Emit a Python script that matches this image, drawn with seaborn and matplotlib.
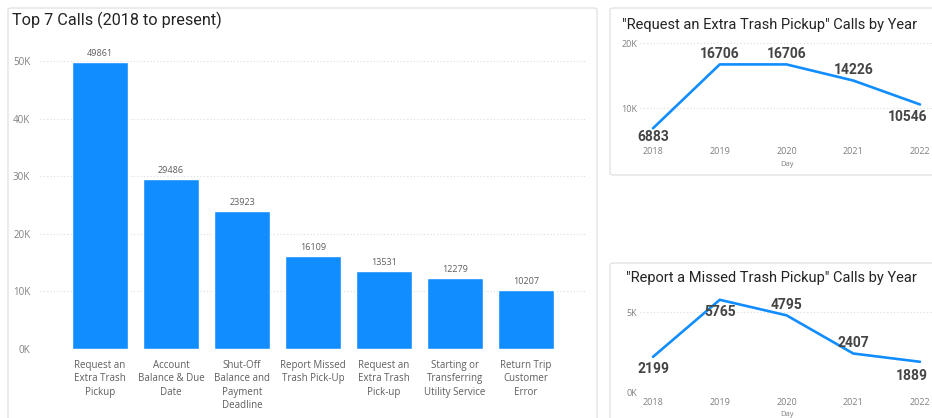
import matplotlib
matplotlib.use("Agg")
import matplotlib.pyplot as plt
from matplotlib.patches import FancyBboxPatch
from matplotlib.ticker import FuncFormatter
import pandas as pd
import seaborn as sns

# ---- data -------------------------------------------------------------
call_types = [
    "Request an\nExtra Trash\nPickup",
    "Account\nBalance & Due\nDate",
    "Shut-Off\nBalance and\nPayment\nDeadline",
    "Report Missed\nTrash Pick-Up",
    "Request an\nExtra Trash\nPick-up",
    "Starting or\nTransferring\nUtility Service",
    "Return Trip\nCustomer\nError",
]
call_counts = [49861, 29486, 23923, 16109, 13531, 12279, 10207]

years = [2018, 2019, 2020, 2021, 2022]
extra_pickup_calls = [6883, 16706, 16706, 14226, 10546]
missed_pickup_calls = [2199, 5765, 4795, 2407, 1889]

bar_ticks = [0, 10000, 20000, 30000, 40000, 50000]
extra_ticks = [10000, 20000]
missed_ticks = [0, 5000]

# ---- style ------------------------------------------------------------
sns.set_theme(style="white")
plt.rcParams["font.family"] = ["Roboto", "DejaVu Sans"]

BLUE = "#118DFF"
TITLE_C = "#252423"
TICK_C = "#808080"
LABEL_C = "#444444"
GRID_C = "#dcdcdc"
FRAME_C = "#e3e3e3"

W, H = 932, 418
fig = plt.figure(figsize=(W / 100, H / 100), dpi=100)
fig.patch.set_facecolor("white")


def fx(px):
    return px / W


def fy(py):
    return 1 - py / H


def axes_px(left, top, right, bottom):
    return fig.add_axes([fx(left), fy(bottom), fx(right) - fx(left), fy(top) - fy(bottom)])


def frame(left, top, right, bottom):
    box = FancyBboxPatch((fx(left), fy(bottom)), fx(right) - fx(left), fy(top) - fy(bottom),
                         boxstyle="round,pad=0,rounding_size=0.004",
                         transform=fig.transFigure, facecolor="none",
                         edgecolor=FRAME_C, linewidth=1.0, zorder=-1)
    fig.patches.append(box)


k_fmt = FuncFormatter(lambda v, _: f"{v / 1000:.0f}K")

frame(8, 8, 597, 430)
frame(610, 8, 945, 175)
frame(610, 263, 945, 430)

# ---- left: bar chart ----------------------------------------------------
ax = axes_px(40, 45, 585, 349)
ax.set_facecolor("none")
bars_df = pd.DataFrame({"call_type": call_types, "calls": call_counts})
sns.barplot(data=bars_df, x="call_type", y="calls", color=BLUE, saturation=1,
            width=0.79, ax=ax)
ax.set_xlim(-0.845, 6.831)
ax.set_ylim(0, 52780)
ax.set_yticks(bar_ticks)
ax.yaxis.set_major_formatter(k_fmt)
ax.grid(axis="y", color=GRID_C, linestyle=(0, (1, 2)), linewidth=0.8)
ax.set_axisbelow(True)
ax.set_xlabel("")
ax.set_ylabel("")
for s in ax.spines.values():
    s.set_visible(False)
ax.tick_params(axis="y", length=0, pad=7, labelsize=7, labelcolor=TICK_C)
ax.tick_params(axis="x", length=0, pad=8, labelsize=7, labelcolor="#605E5C")
for t in ax.get_xticklabels():
    t.set_family(["Open Sans", "DejaVu Sans"])
    t.set_linespacing(1.28)
for t in ax.get_yticklabels():
    t.set_family(["Open Sans", "DejaVu Sans"])
for c in ax.containers:
    ax.bar_label(c, fmt="%d", padding=3, fontsize=6.5, color="#605E5C",
                 family=["Open Sans", "DejaVu Sans"])
fig.text(fx(12), fy(20), "Top 7 Calls (2018 to present)", fontsize=11.7,
         color=TITLE_C, ha="left", va="center")


# ---- right: line charts --------------------------------------------------
def line_panel(top, bottom, values, ylim, ticks, title, title_xy, label_offsets, xpad):
    a = axes_px(640, top, 935, bottom)
    a.set_facecolor("none")
    df = pd.DataFrame({"year": years, "calls": values})
    sns.lineplot(data=df, x="year", y="calls", color=BLUE, linewidth=1.9, ax=a)
    a.set_xlim(2017.805, 2022.225)
    a.set_ylim(*ylim)
    a.set_xticks(years)
    a.set_yticks(ticks)
    a.yaxis.set_major_formatter(k_fmt)
    a.grid(axis="y", color=GRID_C, linestyle=(0, (1, 2)), linewidth=0.8)
    a.grid(axis="x", visible=False)
    a.set_axisbelow(True)
    for s in a.spines.values():
        s.set_visible(False)
    a.tick_params(axis="both", length=0, labelsize=6.5, labelcolor=TICK_C)
    a.tick_params(axis="x", pad=xpad)
    a.tick_params(axis="y", pad=2)
    for t in a.get_xticklabels() + a.get_yticklabels():
        t.set_family(["Open Sans", "DejaVu Sans"])
    a.set_xlabel("Day", fontsize=5.5, color=TICK_C, labelpad=3.5,
                 family=["Open Sans", "DejaVu Sans"])
    a.set_ylabel("")
    for yr, v, (dx, dy) in zip(years, values, label_offsets):
        a.annotate(f"{v}", (yr, v), xytext=(dx, dy), textcoords="offset points",
                   ha="center", va="center", fontsize=10, fontweight="bold",
                   color=LABEL_C, annotation_clip=False)
    fig.text(fx(title_xy[0]), fy(title_xy[1]), title, fontsize=10.5,
             color=TITLE_C, ha="left", va="center")


line_panel(40, 140, extra_pickup_calls, (5077, 20462), extra_ticks,
           '"Request an Extra Trash Pickup" Calls by Year', (622, 25),
           [(0, -6.5), (0, 7.5), (0, 7.5), (0, 7.5), (-9, -9)], 5)
line_panel(293, 392, missed_pickup_calls, (0, 6190), missed_ticks,
           '"Report a Missed Trash Pickup" Calls by Year', (626, 278),
           [(0, -8.5), (0, -9), (0, 7.5), (0, 7.5), (-6, -10.5)], 4)

fig.savefig("out.png", dpi=100, facecolor="white")
